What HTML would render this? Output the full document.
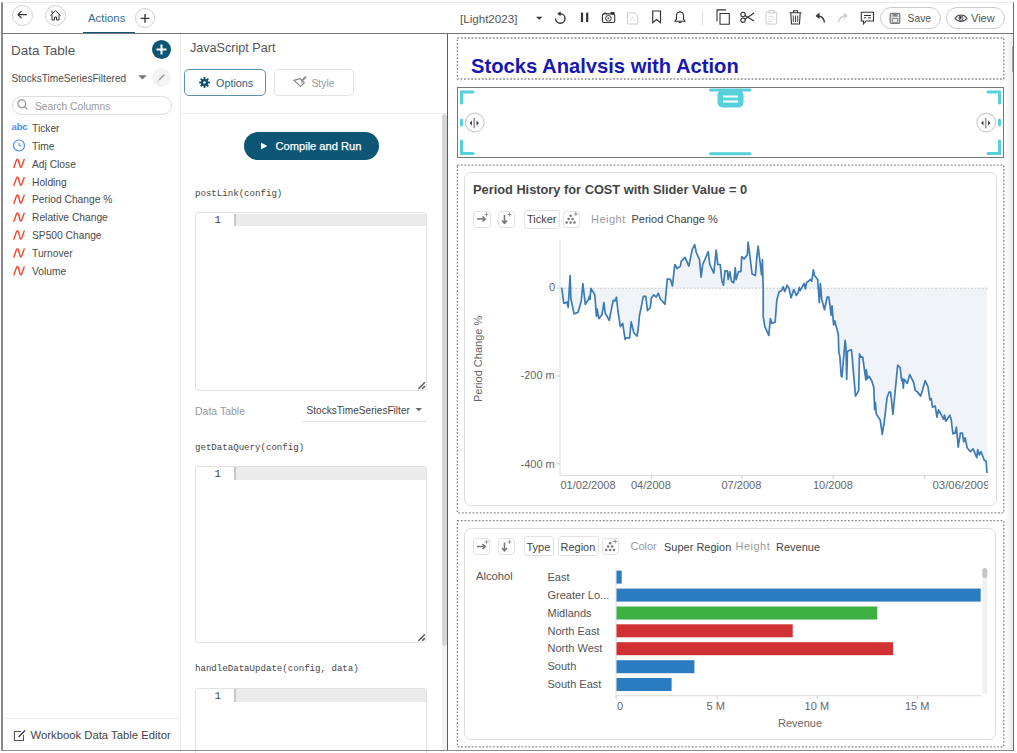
<!DOCTYPE html>
<html><head><meta charset="utf-8">
<style>
*{margin:0;padding:0;box-sizing:border-box}
html,body{width:1017px;height:753px;overflow:hidden;background:#fff;font-family:"Liberation Sans",sans-serif;color:#333}
.a{position:absolute;white-space:nowrap}
#frame{position:absolute;left:1px;top:2px;width:1013.3px;height:749px;border-left:2px solid #888;border-right:1.5px solid #6a6a6a;border-bottom:1px solid #8c8c8c;border-top:1px solid #e8e8e8}
.circ{position:absolute;border:1px solid #d0d0d0;border-radius:50%;background:#fff}
.t{position:absolute;white-space:nowrap;line-height:1}
</style></head><body>
<!-- header -->
<div class="a" style="left:2px;top:33px;width:1012px;height:1px;background:#777"></div>
<div class="circ" style="left:12px;top:5px;width:21px;height:21px"></div>
<div class="circ" style="left:45px;top:5px;width:21px;height:21px"></div>
<div class="t" style="left:88px;top:12.8px;font-size:11.4px;color:#2f6f8e">Actions</div>
<div class="a" style="left:83px;top:31.5px;width:52px;height:1.6px;background:#0f5778"></div>
<div class="circ" style="left:135px;top:8px;width:20px;height:20px"></div>
<svg class="a" style="left:0;top:0" width="1017" height="34">
 <!-- back arrow -->
 <path d="M18 14.7 H27 M21.5 11.2 L18 14.7 L21.5 18.2" stroke="#333" stroke-width="1.2" fill="none"/>
 <!-- home -->
 <path d="M50.5 15.5 L55.5 10.5 L60.5 15.5 M52 14.5 V20 H54.5 V17 H56.5 V20 H59 V14.5 M52 10.6 V13" stroke="#333" stroke-width="1" fill="none"/>
 <!-- plus -->
 <path d="M145 14 V22.8 M140.6 18.4 H149.4" stroke="#3a3a3a" stroke-width="1.4"/>
 <!-- dropdown -->
 <path d="M536 16.7 L542.5 16.7 L539.25 19.8Z" fill="#333"/>
 <!-- refresh -->
 <path d="M555.6 18.5 A4.7 4.7 0 1 0 560.3 13.8 H559.5" stroke="#333" stroke-width="1.4" fill="none"/>
 <path d="M557.3 13.8 L560.6 11.3 L560.6 16.3Z" fill="#333"/>
 <!-- pause -->
 <rect x="580.9" y="12.6" width="2.2" height="9.5" fill="#333"/>
 <rect x="586.1" y="12.6" width="2.2" height="9.5" fill="#333"/>
 <!-- camera -->
 <rect x="602.4" y="13.9" width="12.3" height="8.6" rx="1.6" stroke="#333" stroke-width="1.1" fill="none"/>
 <path d="M603.8 13.9 L604.6 12.9 H606 L606.8 13.9" stroke="#333" stroke-width="1" fill="none"/>
 <rect x="610.6" y="11.9" width="4" height="2.6" rx="0.6" fill="#333"/>
 <circle cx="608.4" cy="18.3" r="2.8" stroke="#333" stroke-width="1" fill="none"/>
 <circle cx="608.4" cy="18.3" r="1" fill="#555"/>
 <!-- pdf faded -->
 <path d="M627.5 12.8 H634.5 L637.8 16 V24 H627.5 Z" stroke="#ccc" stroke-width="1" fill="none"/>
 <path d="M630 21.5 L632.5 16.5 L635 21" stroke="#ddd" stroke-width="0.9" fill="none"/>
 <!-- bookmark -->
 <path d="M652.7 11 H660.5 V22.8 L656.6 19.5 L652.7 22.8 Z" stroke="#333" stroke-width="1.2" fill="none"/>
 <!-- bell -->
 <path d="M675 21.2 H685 L683.5 19 V15.5 A3.5 3.5 0 0 0 676.5 15.5 V19 Z M678.5 22.5 H681.5" stroke="#333" stroke-width="1.1" fill="none"/>
 <line x1="680" y1="10.8" x2="680" y2="12" stroke="#333" stroke-width="1.1"/>
 <!-- sep -->
 <line x1="702.5" y1="11" x2="702.5" y2="25" stroke="#ddd" stroke-width="1"/>
 <!-- copy -->
 <path d="M720 24.3 V13.5 H729.3 V24.3 Z" stroke="#333" stroke-width="1.1" fill="none"/>
 <path d="M717 21.5 V9.9 H726" stroke="#333" stroke-width="1.1" fill="none"/>
 <!-- scissors -->
 <circle cx="743" cy="14.5" r="2.2" stroke="#333" stroke-width="1.1" fill="none"/>
 <circle cx="743" cy="20.2" r="2.2" stroke="#333" stroke-width="1.1" fill="none"/>
 <path d="M745 15.5 L754 21 M745 19.3 L754 13" stroke="#333" stroke-width="1.1"/>
 <!-- clipboard faded -->
 <rect x="766" y="12" width="10.7" height="12" rx="1" stroke="#ccc" stroke-width="1" fill="none"/>
 <rect x="769" y="10.5" width="4.8" height="2.5" stroke="#ccc" stroke-width="1" fill="#fff"/>
 <path d="M768.5 16.5 H774.5 M768.5 19 H774.5 M768.5 21.5 H772.5" stroke="#ddd" stroke-width="0.9"/>
 <!-- trash -->
 <path d="M789.5 12.8 H801.5 M793.5 12.8 V10.8 H797.5 V12.8 M790.8 13 L791.5 24 H799.5 L800.2 13" stroke="#333" stroke-width="1.1" fill="none"/>
 <path d="M793.3 15.5 V22 M795.5 15.5 V22 M797.7 15.5 V22" stroke="#333" stroke-width="0.9"/>
 <!-- undo -->
 <path d="M824.5 22.5 C824 18 822 16 817.5 16" stroke="#333" stroke-width="1.4" fill="none"/>
 <path d="M815.5 16 L819.5 12.5 L819.5 19 Z" fill="#333"/>
 <!-- redo faded -->
 <path d="M838.5 22.5 C839 18 841 16 845.5 16" stroke="#ccc" stroke-width="1.4" fill="none"/>
 <path d="M847.8 16 L843.8 12.5 L843.8 19 Z" fill="#ccc"/>
 <!-- comment -->
 <path d="M861.3 12.2 H873.5 V21 H866 L863.5 23.8 V21 H861.3 Z" stroke="#333" stroke-width="1.1" fill="none"/>
 <path d="M864 15.5 H871 M864 17.8 H866 M868 17.8 H871" stroke="#333" stroke-width="1"/>
</svg>
<div class="t" style="left:460px;top:13px;font-size:11.6px;color:#555">[Light2023]</div>
<div class="a" style="left:880px;top:7px;width:61px;height:22px;border:1px solid #ccc;border-radius:11px"></div>
<div class="a" style="left:946px;top:7px;width:59px;height:22px;border:1px solid #ccc;border-radius:11px"></div>
<svg class="a" style="left:880px;top:7px" width="130" height="22">
 <rect x="10.2" y="6.3" width="9.6" height="10.2" rx="1.2" stroke="#777" stroke-width="1.2" fill="#d8d8d8"/>
 <rect x="12.6" y="6.6" width="4.8" height="3" fill="#888"/>
 <rect x="12.4" y="11.6" width="5.2" height="4" stroke="#888" stroke-width="0.9" fill="#eee"/>
 <path d="M75 11.2 C78 7 84 7 87 11.2 C84 15.4 78 15.4 75 11.2 Z" stroke="#444" stroke-width="1.1" fill="none"/>
 <circle cx="81" cy="11.2" r="2.1" stroke="#444" stroke-width="0.9" fill="#fff"/><circle cx="80.4" cy="10.8" r="1.2" fill="#333"/>
</svg>
<div class="t" style="left:907.6px;top:13.6px;font-size:10.3px;color:#555">Save</div>
<div class="t" style="left:971px;top:13px;font-size:11px;color:#555">View</div>

<!-- left panel -->
<div class="a" style="left:180px;top:34px;width:1px;height:716px;background:#eee"></div>
<div class="t" style="left:11px;top:43.6px;font-size:13.5px;color:#555">Data Table</div>
<div class="a" style="left:151.5px;top:39.5px;width:19.5px;height:19.5px;border-radius:50%;background:#0d5574"></div>
<svg class="a" style="left:151px;top:39px" width="21" height="21"><path d="M10.5 5.5 V15.5 M5.5 10.5 H15.5" stroke="#fff" stroke-width="2"/></svg>
<div class="t" style="left:11.5px;top:73.5px;font-size:10.1px;color:#4d4d4d">StocksTimeSeriesFiltered</div>
<svg class="a" style="left:137px;top:74px" width="12" height="8"><path d="M1.2 1.3 H9.8 L5.5 5.5 Z" fill="#777"/></svg>
<div class="a" style="left:152px;top:67.6px;width:19px;height:19px;border-radius:50%;background:#f3f3f3"></div>
<svg class="a" style="left:152px;top:67.6px" width="19" height="19"><path d="M7 12 L12.3 6.7" stroke="#999" stroke-width="1.6"/><path d="M5.2 13.8 L6.3 12.7" stroke="#aaa" stroke-width="1"/></svg>
<div class="a" style="left:11.5px;top:96px;width:160px;height:19px;border:1px solid #ddd;border-radius:10px"></div>
<svg class="a" style="left:16px;top:98.3px" width="14" height="14"><circle cx="5.8" cy="5.8" r="3.9" stroke="#999" stroke-width="1.3" fill="none"/><path d="M8.6 8.6 L11.3 11.3" stroke="#999" stroke-width="1.4"/></svg>
<div class="t" style="left:35px;top:101.8px;font-size:10.2px;color:#999">Search Columns</div>

<div class="t" style="left:11.5px;top:122.2px;font-size:9.6px;font-weight:bold;color:#4a8cf7;letter-spacing:-0.2px">abc</div>
<svg class="a" style="left:12px;top:138px" width="14" height="14"><circle cx="7" cy="7.5" r="5.5" stroke="#4a8cf7" stroke-width="1.2" fill="none"/><path d="M7 4.8 V7.8 H9" stroke="#4a8cf7" stroke-width="1" fill="none"/></svg>
<svg class="a" style="left:12px;top:157px" width="14" height="132">
 <path id="nn" d="M1.8 11 L4.4 3.3 Q5.4 1 6.4 3.3 L8 9.3 Q8.8 11.6 9.7 9.3 L12.4 2" stroke="#f5452d" stroke-width="1.4" fill="none"/>
 <use href="#nn" y="17.9"/>
 <use href="#nn" y="35.8"/>
 <use href="#nn" y="53.7"/>
 <use href="#nn" y="71.6"/>
 <use href="#nn" y="89.5"/>
 <use href="#nn" y="107.4"/>
</svg>
<div class="t" style="left:32px;top:119.8px;font-size:10.25px;color:#4a4a4a;line-height:17.9px">Ticker<br>Time<br>Adj Close<br>Holding<br>Period Change %<br>Relative Change<br>SP500 Change<br>Turnover<br>Volume</div>

<div class="a" style="left:4px;top:718px;width:176px;height:1px;background:#eee"></div>
<svg class="a" style="left:13px;top:729px" width="14" height="14"><path d="M8 2.5 H1.5 V11.5 H10.5 V6" stroke="#555" stroke-width="1.1" fill="none"/><path d="M5.5 8 L12 1.5" stroke="#333" stroke-width="1.3"/></svg>
<div class="t" style="left:30.5px;top:730px;font-size:11.3px;color:#444">Workbook Data Table Editor</div>

<!-- middle panel -->
<div class="t" style="left:190px;top:42.3px;font-size:12.6px;color:#555">JavaScript Part</div>
<div class="a" style="left:184px;top:68.8px;width:82px;height:27px;border:1.3px solid #5a93ad;border-radius:5px"></div>
<div class="a" style="left:273.5px;top:69px;width:80px;height:27px;border:1px solid #e3e3e3;border-radius:5px"></div>
<svg class="a" style="left:197px;top:74.8px" width="15" height="15">
 <g fill="#0f4d6e"><circle cx="7.5" cy="7.5" r="3.6"/>
 <rect x="6.6" y="2.1" width="1.8" height="10.8" rx="0.4"/>
 <rect x="6.6" y="2.1" width="1.8" height="10.8" rx="0.4" transform="rotate(45 7.5 7.5)"/>
 <rect x="6.6" y="2.1" width="1.8" height="10.8" rx="0.4" transform="rotate(90 7.5 7.5)"/>
 <rect x="6.6" y="2.1" width="1.8" height="10.8" rx="0.4" transform="rotate(135 7.5 7.5)"/></g>
 <circle cx="7.5" cy="7.5" r="1.3" fill="#fff"/>
</svg>
<div class="t" style="left:216px;top:78px;font-size:10.8px;color:#2d5f7c">Options</div>
<svg class="a" style="left:293px;top:76px" width="15" height="14"><path d="M0.9 4.3 L7.2 2.7 L11.4 6.7 L7.5 10.4 Z" stroke="#8a8a8a" stroke-width="1.2" fill="none" stroke-linejoin="round"/><path d="M7.6 4.5 L10 6.8 L8.3 8.2Z" fill="#bbb"/><path d="M9 4.6 L12.4 1.3" stroke="#8a8a8a" stroke-width="1.9" stroke-linecap="round"/></svg>
<div class="t" style="left:311.5px;top:79px;font-size:10.3px;color:#999">Style</div>
<div class="a" style="left:181px;top:113px;width:266px;height:1px;background:#eee"></div>
<div class="a" style="left:441.5px;top:114px;width:5.5px;height:532px;background:#d6d6d6;border-radius:3px 3px 3px 3px"></div>
<div class="a" style="left:441.5px;top:646px;width:5.5px;height:104px;background:#f3f3f3"></div>
<div class="a" style="left:447px;top:34px;width:1.2px;height:716px;background:#5c5c5c"></div>

<div class="a" style="left:243.5px;top:131.5px;width:135.5px;height:28.5px;border-radius:14px;background:#0d5574"></div>
<svg class="a" style="left:260px;top:142px" width="9" height="9"><path d="M1 0.5 L7.3 4 L1 7.5Z" fill="#fff"/></svg>
<div class="t" style="left:275.6px;top:141.3px;font-size:11.1px;color:#fff;-webkit-text-stroke:0.25px #fff">Compile and Run</div>

<div class="t" style="left:195px;top:189px;font-size:9.1px;font-family:'Liberation Mono',monospace;color:#444">postLink(config)</div>
<div class="a" style="left:194.8px;top:212.4px;width:232.4px;height:178.2px;border:1px solid #e2e2e2;border-radius:3px"></div>
<div class="a" style="left:235px;top:213.5px;width:191px;height:12.5px;background:#ebebeb"></div>
<div class="a" style="left:233.5px;top:213.5px;width:2px;height:12.5px;background:#c8c8c8"></div>
<div class="t" style="left:214.5px;top:215.4px;font-size:10.8px;font-family:'Liberation Mono',monospace;color:#444">1</div>
<svg class="a" style="left:417px;top:381px" width="9" height="9"><path d="M1.8 7.6 L7.5 1.7 M5.5 7.5 L7.6 5.4" stroke="#555" stroke-width="1.4" stroke-linecap="round"/></svg>

<div class="t" style="left:195px;top:406px;font-size:10.5px;color:#999">Data Table</div>
<div class="t" style="left:306.5px;top:406px;font-size:10.1px;color:#444">StocksTimeSeriesFilter</div>
<svg class="a" style="left:414px;top:407px" width="10" height="6"><path d="M1.5 1 H8 L4.75 4.3Z" fill="#666"/></svg>
<div class="a" style="left:302px;top:420.5px;width:125px;height:1px;background:#e0e0e0"></div>

<div class="t" style="left:195px;top:443px;font-size:9.1px;font-family:'Liberation Mono',monospace;color:#444">getDataQuery(config)</div>
<div class="a" style="left:194.8px;top:466px;width:232.4px;height:177.2px;border:1px solid #e2e2e2;border-radius:3px"></div>
<div class="a" style="left:235px;top:467px;width:191px;height:12.5px;background:#ebebeb"></div>
<div class="a" style="left:233.5px;top:467px;width:2px;height:12.5px;background:#c8c8c8"></div>
<div class="t" style="left:214.5px;top:469px;font-size:10.8px;font-family:'Liberation Mono',monospace;color:#444">1</div>
<svg class="a" style="left:417px;top:633px" width="9" height="9"><path d="M1.8 7.6 L7.5 1.7 M5.5 7.5 L7.6 5.4" stroke="#555" stroke-width="1.4" stroke-linecap="round"/></svg>

<div class="t" style="left:195px;top:663.5px;font-size:9.1px;font-family:'Liberation Mono',monospace;color:#444">handleDataUpdate(config, data)</div>
<div class="a" style="left:194.8px;top:688px;width:232.4px;height:80px;border:1px solid #e2e2e2;border-radius:3px"></div>
<div class="a" style="left:235px;top:689px;width:191px;height:12.5px;background:#ebebeb"></div>
<div class="a" style="left:233.5px;top:689px;width:2px;height:12.5px;background:#c8c8c8"></div>
<div class="t" style="left:214.5px;top:691px;font-size:10.8px;font-family:'Liberation Mono',monospace;color:#444">1</div>

<!-- right canvas -->
<svg class="a" style="left:0;top:0" width="1017" height="753">
 <g fill="none" stroke="#8a8a8a" stroke-width="1.3" stroke-dasharray="1.8 1.75">
  <rect x="457.4" y="38" width="546.4" height="41"/>
  <rect x="457.4" y="165.1" width="546.4" height="347.7"/>
  <rect x="457.4" y="520.6" width="546.4" height="226.2"/>
 </g>
</svg>


<div class="a" style="left:471px;top:54px;width:400px;height:19px;overflow:hidden"><div class="t" style="left:0;top:1.5px;font-size:20.2px;font-weight:bold;color:#1717b5">Stocks Analysis with Action</div></div>

<div class="a" style="left:456.8px;top:86.8px;width:547.4px;height:71px;border:1px solid #777"></div>
<svg class="a" style="left:448px;top:80px" width="569" height="85">
 <g stroke="#56d0d9" stroke-width="3" stroke-linecap="round" fill="none">
  <path d="M13.5 23 V12 H25"/>
  <path d="M13.5 61 V73.5 H25"/>
  <path d="M13.5 40 V45"/>
  <path d="M551.5 23 V12 H540"/>
  <path d="M551.5 61 V73.5 H540"/>
  <path d="M551.5 40 V45"/>
  <path d="M262.5 10 H302"/>
  <path d="M262.5 73.8 H302"/>
 </g>
 <rect x="269.5" y="10" width="26" height="17.5" rx="5" fill="#56d0d9"/>
 <path d="M275 16.5 H290 M275 21.5 H290" stroke="#fff" stroke-width="2"/>
 <circle cx="26.8" cy="42.5" r="9.3" fill="#fff" stroke="#cdcdcd" stroke-width="1.2"/>
 <circle cx="538.3" cy="42.5" r="9.3" fill="#fff" stroke="#cdcdcd" stroke-width="1.2"/>
 <g fill="#444"><path d="M21.5 43 L24 40.6 V45.4Z M31 43 L28.5 40.6 V45.4Z"/>
 <path d="M533 43 L535.5 40.6 V45.4Z M542.5 43 L540 40.6 V45.4Z"/></g>
 <path d="M26.2 38 V48.3 M537.7 38 V48.3" stroke="#999" stroke-width="1.6"/>
</svg>


<div class="a" style="left:464px;top:172px;width:532.8px;height:333.7px;border:1.2px solid #ddd;border-radius:7px"></div>
<div class="t" style="left:473px;top:183.5px;font-size:12.8px;font-weight:bold;color:#444">Period History for COST with Slider Value = 0</div>
<div class="a" style="left:472.5px;top:210.5px;width:18px;height:17px;border:1px solid #e3e3e3;border-radius:3px"></div>
<div class="a" style="left:497.5px;top:210.5px;width:17px;height:17px;border:1px solid #e3e3e3;border-radius:3px"></div>
<div class="a" style="left:524px;top:209.5px;width:36px;height:19px;border:1px solid #e3e3e3;border-radius:3px"></div>
<div class="a" style="left:562.5px;top:210.5px;width:17px;height:17px;border:1px solid #e3e3e3;border-radius:3px"></div>
<div class="t" style="left:527px;top:214px;font-size:11px;color:#444">Ticker</div>
<div class="t" style="left:591px;top:214px;font-size:11px;color:#999;letter-spacing:0.5px">Height</div>
<div class="t" style="left:631.5px;top:214px;font-size:11px;color:#444">Period Change %</div>

<svg class="a" style="left:0;top:0" width="1017" height="753">
 <defs>
  <g id="arrR"><path d="M4.5 8.5 H12.5 M10 6 L12.8 8.5 L10 11" stroke="#777" stroke-width="1.6" fill="none"/><path d="M14 2 V6 M12 4 H16" stroke="#999" stroke-width="1"/></g>
  <g id="arrD"><path d="M7 4.5 V12.5 M4.5 10 L7 12.8 L9.5 10" stroke="#777" stroke-width="1.6" fill="none"/><path d="M12 2 V6 M10 4 H14" stroke="#999" stroke-width="1"/></g>
  <g id="scat" fill="#777"><circle cx="4.2" cy="12" r="1.25"/><circle cx="8.1" cy="12" r="1.25"/><circle cx="12" cy="12" r="1.25"/><circle cx="6.1" cy="8.6" r="1.25"/><circle cx="10.1" cy="8.6" r="1.25"/><circle cx="8.1" cy="5.2" r="1.25"/><path d="M13.3 1.5 V5.5 M11.3 3.5 H15.3" stroke="#999" stroke-width="1"/></g>
 </defs>
 <use href="#arrR" x="472.5" y="210.5"/>
 <use href="#arrD" x="497.5" y="210.5"/>
 <use href="#scat" x="562.5" y="210.5"/>
 <!-- chart axes -->
 <line x1="560" y1="240.5" x2="560" y2="476" stroke="#ddd" stroke-width="1"/>
 <line x1="560" y1="475.6" x2="988" y2="475.6" stroke="#ddd" stroke-width="1"/>
 <path d="M561.7,288.2 L561.7,287.6 L563.8,303.5 L567.0,302.0 L568.2,307.5 L570.1,275.6 L570.9,298.7 L574.1,313.9 L578.1,312.3 L581.3,301.1 L582.9,283.6 L585.3,304.3 L588.5,299.5 L589.3,296.4 L590.0,299.5 L590.9,288.4 L594.8,294.8 L596.4,316.3 L597.2,309.1 L598.8,318.7 L602.0,314.7 L603.9,302.7 L605.2,313.1 L609.2,320.3 L613.2,300.3 L614.8,301.1 L616.4,297.2 L618.0,311.5 L620.3,326.6 L622.7,323.4 L625.1,339.4 L626.4,337.8 L629.6,337.8 L631.2,321.9 L633.9,333.0 L637.1,336.2 L638.2,329.0 L639.5,315.5 L643.4,296.4 L645.8,296.4 L647.4,310.7 L650.3,307.5 L651.4,297.9 L653.8,294.8 L656.2,297.2 L658.3,293.2 L660.2,298.7 L665.0,304.3 L667.3,278.8 L670.5,279.6 L672.4,286.0 L674.8,264.5 L677.2,268.5 L680.4,266.1 L681.2,261.3 L685.1,257.3 L688.8,266.1 L692.3,249.3 L694.7,244.6 L696.3,252.5 L699.5,259.7 L701.1,277.2 L702.7,264.5 L708.2,251.7 L709.8,264.5 L713.8,273.2 L716.2,250.1 L717.8,264.5 L720.2,264.5 L721.8,280.4 L723.4,285.2 L725.0,270.9 L727.4,270.9 L728.2,279.6 L729.8,271.7 L731.4,281.2 L733.7,282.8 L735.3,267.7 L736.1,279.6 L738.5,271.7 L740.9,271.7 L741.7,256.5 L744.1,258.9 L747.3,254.9 L748.1,242.2 L749.7,254.1 L752.1,274.0 L755.3,275.6 L756.9,256.5 L758.1,246.2 L761.6,274.8 L762.4,259.7 L763.2,287.6 L763.2,316.3 L764.8,326.6 L768.8,335.4 L770.4,318.7 L772.0,323.4 L775.2,321.9 L776.8,300.3 L779.2,291.6 L781.6,290.8 L783.1,286.8 L784.7,291.6 L787.1,285.2 L789.0,288.2 L791.1,297.8 L793.8,289.5 L796.2,295.4 L798.1,293.0 L799.3,287.4 L800.1,290.6 L804.1,283.5 L805.4,289.0 L806.5,282.7 L810.5,279.5 L811.8,281.1 L813.4,269.9 L814.5,275.5 L817.7,279.5 L819.3,302.6 L820.4,283.5 L821.7,299.4 L824.5,309.8 L827.2,297.0 L828.8,297.0 L831.2,315.3 L832.0,305.8 L833.6,324.9 L834.7,320.9 L837.2,330.0 L838.3,334.8 L838.8,351.5 L839.9,357.1 L841.2,376.2 L842.0,377.0 L845.1,340.4 L845.9,346.7 L846.7,379.4 L847.5,351.5 L849.1,350.4 L851.5,349.9 L855.5,396.1 L858.7,390.6 L859.5,353.9 L861.1,357.1 L862.7,357.1 L865.9,380.2 L866.3,369.8 L867.5,378.6 L869.0,376.2 L871.8,381.0 L873.8,387.4 L874.6,409.7 L875.4,402.5 L876.2,413.7 L878.6,417.6 L880.2,420.0 L882.3,434.4 L884.2,422.4 L887.1,397.7 L889.0,392.2 L890.6,392.2 L892.9,414.5 L897.7,365.1 L900.1,367.5 L901.7,381.0 L902.5,378.6 L903.3,388.2 L904.1,379.4 L907.3,383.4 L909.7,374.6 L913.7,382.6 L915.3,390.6 L916.9,391.4 L920.8,396.1 L925.2,380.7 L927.9,386.6 L929.9,399.9 L931.2,398.6 L932.5,407.2 L935.2,405.9 L936.9,417.2 L938.5,409.9 L942.5,417.2 L943.8,419.2 L944.5,415.2 L945.8,421.2 L949.8,415.2 L951.1,419.2 L952.9,433.8 L955.1,433.1 L956.4,427.1 L958.2,447.1 L960.4,433.1 L962.4,433.1 L963.7,441.8 L965.1,437.8 L967.1,447.7 L970.4,451.7 L973.0,448.8 L976.8,457.7 L977.7,449.7 L979.4,455.0 L981.0,451.7 L984.3,460.3 L986.1,461.3 L987.0,473.0 L987.0,288.2 Z" fill="#f0f3f8"/>
 <line x1="557" y1="288.2" x2="988" y2="288.2" stroke="#c8c8c8" stroke-width="1" stroke-dasharray="2,1.6"/>
 <path d="M556 376 H560 M556 463.8 H560 M651.4 475.6 V479 M742 475.6 V479 M833.2 475.6 V479 M924.7 475.6 V479" stroke="#ccc" stroke-width="1"/>
 <path d="M561.7,287.6 L563.8,303.5 L567.0,302.0 L568.2,307.5 L570.1,275.6 L570.9,298.7 L574.1,313.9 L578.1,312.3 L581.3,301.1 L582.9,283.6 L585.3,304.3 L588.5,299.5 L589.3,296.4 L590.0,299.5 L590.9,288.4 L594.8,294.8 L596.4,316.3 L597.2,309.1 L598.8,318.7 L602.0,314.7 L603.9,302.7 L605.2,313.1 L609.2,320.3 L613.2,300.3 L614.8,301.1 L616.4,297.2 L618.0,311.5 L620.3,326.6 L622.7,323.4 L625.1,339.4 L626.4,337.8 L629.6,337.8 L631.2,321.9 L633.9,333.0 L637.1,336.2 L638.2,329.0 L639.5,315.5 L643.4,296.4 L645.8,296.4 L647.4,310.7 L650.3,307.5 L651.4,297.9 L653.8,294.8 L656.2,297.2 L658.3,293.2 L660.2,298.7 L665.0,304.3 L667.3,278.8 L670.5,279.6 L672.4,286.0 L674.8,264.5 L677.2,268.5 L680.4,266.1 L681.2,261.3 L685.1,257.3 L688.8,266.1 L692.3,249.3 L694.7,244.6 L696.3,252.5 L699.5,259.7 L701.1,277.2 L702.7,264.5 L708.2,251.7 L709.8,264.5 L713.8,273.2 L716.2,250.1 L717.8,264.5 L720.2,264.5 L721.8,280.4 L723.4,285.2 L725.0,270.9 L727.4,270.9 L728.2,279.6 L729.8,271.7 L731.4,281.2 L733.7,282.8 L735.3,267.7 L736.1,279.6 L738.5,271.7 L740.9,271.7 L741.7,256.5 L744.1,258.9 L747.3,254.9 L748.1,242.2 L749.7,254.1 L752.1,274.0 L755.3,275.6 L756.9,256.5 L758.1,246.2 L761.6,274.8 L762.4,259.7 L763.2,287.6 L763.2,316.3 L764.8,326.6 L768.8,335.4 L770.4,318.7 L772.0,323.4 L775.2,321.9 L776.8,300.3 L779.2,291.6 L781.6,290.8 L783.1,286.8 L784.7,291.6 L787.1,285.2 L789.0,288.2 L791.1,297.8 L793.8,289.5 L796.2,295.4 L798.1,293.0 L799.3,287.4 L800.1,290.6 L804.1,283.5 L805.4,289.0 L806.5,282.7 L810.5,279.5 L811.8,281.1 L813.4,269.9 L814.5,275.5 L817.7,279.5 L819.3,302.6 L820.4,283.5 L821.7,299.4 L824.5,309.8 L827.2,297.0 L828.8,297.0 L831.2,315.3 L832.0,305.8 L833.6,324.9 L834.7,320.9 L837.2,330.0 L838.3,334.8 L838.8,351.5 L839.9,357.1 L841.2,376.2 L842.0,377.0 L845.1,340.4 L845.9,346.7 L846.7,379.4 L847.5,351.5 L849.1,350.4 L851.5,349.9 L855.5,396.1 L858.7,390.6 L859.5,353.9 L861.1,357.1 L862.7,357.1 L865.9,380.2 L866.3,369.8 L867.5,378.6 L869.0,376.2 L871.8,381.0 L873.8,387.4 L874.6,409.7 L875.4,402.5 L876.2,413.7 L878.6,417.6 L880.2,420.0 L882.3,434.4 L884.2,422.4 L887.1,397.7 L889.0,392.2 L890.6,392.2 L892.9,414.5 L897.7,365.1 L900.1,367.5 L901.7,381.0 L902.5,378.6 L903.3,388.2 L904.1,379.4 L907.3,383.4 L909.7,374.6 L913.7,382.6 L915.3,390.6 L916.9,391.4 L920.8,396.1 L925.2,380.7 L927.9,386.6 L929.9,399.9 L931.2,398.6 L932.5,407.2 L935.2,405.9 L936.9,417.2 L938.5,409.9 L942.5,417.2 L943.8,419.2 L944.5,415.2 L945.8,421.2 L949.8,415.2 L951.1,419.2 L952.9,433.8 L955.1,433.1 L956.4,427.1 L958.2,447.1 L960.4,433.1 L962.4,433.1 L963.7,441.8 L965.1,437.8 L967.1,447.7 L970.4,451.7 L973.0,448.8 L976.8,457.7 L977.7,449.7 L979.4,455.0 L981.0,451.7 L984.3,460.3 L986.1,461.3 L987.0,473.0" stroke="#3c7bb5" stroke-width="1.7" fill="none" stroke-linejoin="round"/>
</svg>
<div class="t" style="left:549px;top:282px;font-size:11px;color:#666">0</div>
<div class="t" style="left:520.5px;top:370px;font-size:11px;color:#666">-200 m</div>
<div class="t" style="left:520.5px;top:458.5px;font-size:11px;color:#666">-400 m</div>
<div class="t" style="left:473px;top:401.5px;font-size:11px;color:#666;transform:rotate(-90deg);transform-origin:0 0">Period Change %</div>
<div class="t" style="left:560.5px;top:480px;font-size:11px;color:#666">01/02/2008</div>
<div class="t" style="left:631px;top:480px;font-size:11px;color:#666">04/2008</div>
<div class="t" style="left:721.5px;top:480px;font-size:11px;color:#666">07/2008</div>
<div class="t" style="left:813px;top:480px;font-size:11px;color:#666">10/2008</div>
<div class="a" style="left:932px;top:478px;width:55.5px;height:16px;overflow:hidden"><div class="t" style="left:0.5px;top:2px;font-size:11.4px;color:#666">03/06/2009</div></div>

<!-- bar chart -->

<div class="a" style="left:464px;top:527.5px;width:531.6px;height:212px;border:1.2px solid #ddd;border-radius:7px"></div>
<div class="a" style="left:472.5px;top:537.8px;width:17.5px;height:17.5px;border:1px solid #e3e3e3;border-radius:3px"></div>
<div class="a" style="left:497.5px;top:537.8px;width:17px;height:17.5px;border:1px solid #e3e3e3;border-radius:3px"></div>
<div class="a" style="left:523.5px;top:536.4px;width:30px;height:19.5px;border:1px solid #e3e3e3;border-radius:3px"></div>
<div class="a" style="left:557.5px;top:536.4px;width:41.5px;height:19.5px;border:1px solid #e3e3e3;border-radius:3px"></div>
<div class="a" style="left:602px;top:537.8px;width:16.5px;height:17.5px;border:1px solid #e3e3e3;border-radius:3px"></div>
<div class="t" style="left:526.5px;top:541.5px;font-size:11px;color:#444">Type</div>
<div class="t" style="left:560.5px;top:541.5px;font-size:11px;color:#444">Region</div>
<div class="t" style="left:630.5px;top:541px;font-size:11px;color:#999">Color</div>
<div class="t" style="left:664px;top:541.5px;font-size:11px;color:#444">Super Region</div>
<div class="t" style="left:735.5px;top:541px;font-size:11px;color:#999;letter-spacing:0.5px">Height</div>
<div class="t" style="left:776px;top:541.5px;font-size:11px;color:#444">Revenue</div>
<div class="t" style="left:476px;top:571.3px;font-size:11.2px;color:#555">Alcohol</div>
<div class="t" style="left:547.5px;top:568.8px;font-size:11px;color:#555;line-height:17.9px">East<br>Greater Lo...<br>Midlands<br>North East<br>North West<br>South<br>South East</div>
<svg class="a" style="left:0;top:0" width="1017" height="753">
 <use href="#arrR" x="472.5" y="538"/>
 <use href="#arrD" x="497.5" y="538"/>
 <use href="#scat" x="602" y="538"/>
 <line x1="616" y1="567.7" x2="616" y2="696" stroke="#ddd"/>
 <line x1="616" y1="695.7" x2="981" y2="695.7" stroke="#ddd"/>
 <path d="M616 695.7 V699 M717.1 695.7 V699 M817.2 695.7 V699 M917.6 695.7 V699" stroke="#ccc"/>
 <rect x="616.5" y="570.6" width="5.2" height="13" fill="#2a7bbf"/>
 <rect x="616.5" y="588.6" width="364.2" height="13" fill="#2a7bbf"/>
 <rect x="616.5" y="606.5" width="260.8" height="13" fill="#3cb043"/>
 <rect x="616.5" y="624.3" width="176.2" height="13" fill="#d23134"/>
 <rect x="616.5" y="642.2" width="276.5" height="13" fill="#d23134"/>
 <rect x="616.5" y="660.2" width="77.9" height="13" fill="#2a7bbf"/>
 <rect x="616.5" y="678" width="55.1" height="13" fill="#2a7bbf"/>
 <rect x="982.3" y="567.9" width="5" height="126" rx="2.5" fill="#f1f1f1"/>
 <rect x="982.3" y="567.9" width="5" height="10" rx="2.5" fill="#c5c5c5"/>
</svg>
<div class="t" style="left:617px;top:701px;font-size:11px;color:#666">0</div>
<div class="t" style="left:706.6px;top:701px;font-size:11px;color:#666">5 M</div>
<div class="t" style="left:804.6px;top:701px;font-size:11px;color:#666">10 M</div>
<div class="t" style="left:905px;top:701px;font-size:11px;color:#666">15 M</div>
<div class="t" style="left:778px;top:717.8px;font-size:11px;color:#666">Revenue</div>

<div class="a" style="left:1005px;top:34px;width:8px;height:716px;background:linear-gradient(90deg,rgba(235,235,235,0),#e9e9e9)"></div>
<div class="a" style="left:1011.8px;top:46px;width:1.6px;height:26px;background:#a8a8a8"></div>
<div id="frame"></div>
</body></html>
